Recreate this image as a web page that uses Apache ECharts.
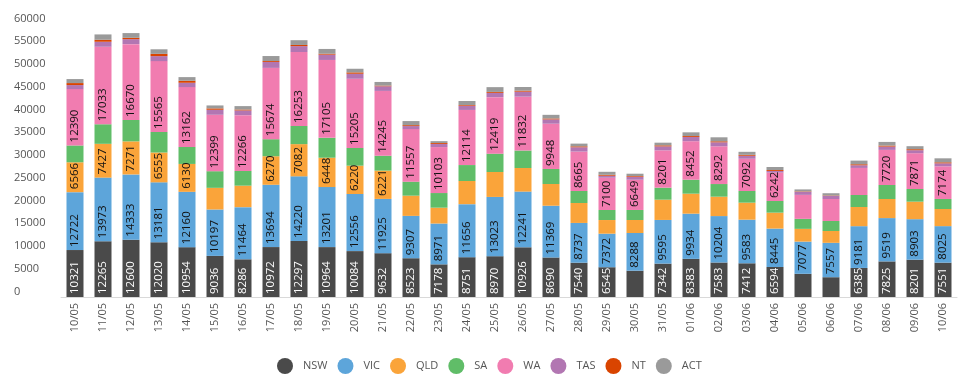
<!DOCTYPE html>
<html><head><meta charset="utf-8">
<script src="https://cdn.jsdelivr.net/npm/echarts@6/dist/echarts.min.js"></script>
<style>html,body{margin:0;padding:0;background:#fff}#c{width:966px;height:381px}</style>
</head><body><div id="c"></div>
<script>
var categories = ['10/05','11/05','12/05','13/05','14/05','15/05','16/05','17/05','18/05','19/05','20/05','21/05','22/05','23/05','24/05','25/05','26/05','27/05','28/05','29/05','30/05','31/05','01/06','02/06','03/06','04/06','05/06','06/06','07/06','08/06','09/06','10/06'];
var NSW = [10321,12265,12600,12020,10954,9036,8286,10972,12297,10964,10084,9632,8523,7178,8751,8970,10926,8690,7540,6545,5780,7342,8383,7583,7412,6594,5100,4350,6385,7825,8201,7551];
var VIC = [12722,13973,14333,13181,12160,10197,11464,13694,14220,13201,12556,11925,9307,8971,11656,13023,12241,11369,8737,7372,8288,9595,9934,10204,9583,8445,7077,7557,9181,9519,8903,8025];
var QLD = [6566,7427,7271,6555,6130,4760,4720,6270,7082,6448,6220,6221,4440,3480,5090,5480,5180,4780,4380,3000,2860,4450,4390,4260,3740,3500,2800,2600,4210,4190,3850,3770];
var SA  = [3700,4300,4700,4520,3730,3660,3220,3750,3990,4380,3900,3270,3080,3220,3500,4030,3850,3300,2640,2200,2200,2640,3080,2780,2560,2560,2200,2200,2640,3080,2780,2200];
var WA  = [12390,17033,16670,15565,13162,12399,12266,15674,16253,17105,15205,14245,11557,10103,12114,12419,11832,9948,8665,7100,6649,8201,8452,8292,7092,6242,5270,4830,5950,7720,7871,7174];
var TAS = [880,1100,1100,1100,950,1100,1050,1300,1300,1170,1100,1020,660,700,930,950,1100,950,950,440,660,880,950,880,660,370,660,660,590,730,660,660];
var NT  = [440,440,300,500,440,300,200,200,250,200,300,150,200,200,150,200,220,200,200,200,150,220,200,220,200,200,100,100,220,220,220,220];
var ACT = [880,1170,1030,1000,800,650,750,1100,1050,1050,800,800,900,400,880,1050,800,800,600,660,510,590,800,880,660,660,440,510,800,800,660,880];
var yTicks = [0,5000,10000,15000,20000,25000,30000,35000,40000,45000,50000,55000,60000];

var names = ['NSW','VIC','QLD','SA','WA','TAS','NT','ACT'];
var datas = [NSW,VIC,QLD,SA,WA,TAS,NT,ACT];
var colors = ['#4a4a4a','#5da5da','#faa43a','#60bd68','#f17cb0','#b276b2','#d94400','#9a9a9a'];
var FONT = '"Open Sans", sans-serif';

var series = names.map(function(n,i){
  return {
    name:n, type:'bar', stack:'total', data:datas[i], barWidth:17,
    itemStyle:{color:colors[i]},
    label:{
      show:true, position:'insideBottom', rotate:90, align:'left', verticalAlign:'middle',
      distance:3, fontFamily:FONT, fontSize:11.5,
      color: i===0 ? '#ffffff' : '#111111',
      formatter:function(p){ return p.value >= 6050 ? String(p.value) : ''; }
    }
  };
});

var chart = echarts.init(document.getElementById('c'), null, {renderer:'canvas'});
chart.setOption({
  animation:false,
  color:colors,
  grid:{left:61, right:9, top:24, height:273, containLabel:false},
  legend:{
    bottom:2, left:272, icon:'circle', itemWidth:16, itemHeight:16, itemGap:10,
    textStyle:{fontFamily:FONT, fontSize:11, color:'#555', padding:[0,0,0,5]},
    data:names
  },
  xAxis:{
    type:'category', data:categories,
    axisLine:{show:true, lineStyle:{color:'#d9d9d9', width:1}},
    axisTick:{show:false},
    axisLabel:{rotate:90, fontFamily:FONT, fontSize:11, color:'#555', margin:6, interval:0}
  },
  yAxis:{
    type:'value', min:0, max:60000, interval:5000,
    axisLine:{show:false}, axisTick:{show:false}, splitLine:{show:false},
    axisLabel:{fontFamily:FONT, fontSize:11, color:'#555', align:'left', margin:47, verticalAlign:'bottom',
      formatter:function(v){ return yTicks.indexOf(v)>=0 ? String(v) : ''; }}
  },
  series:series
});
</script></body></html>
